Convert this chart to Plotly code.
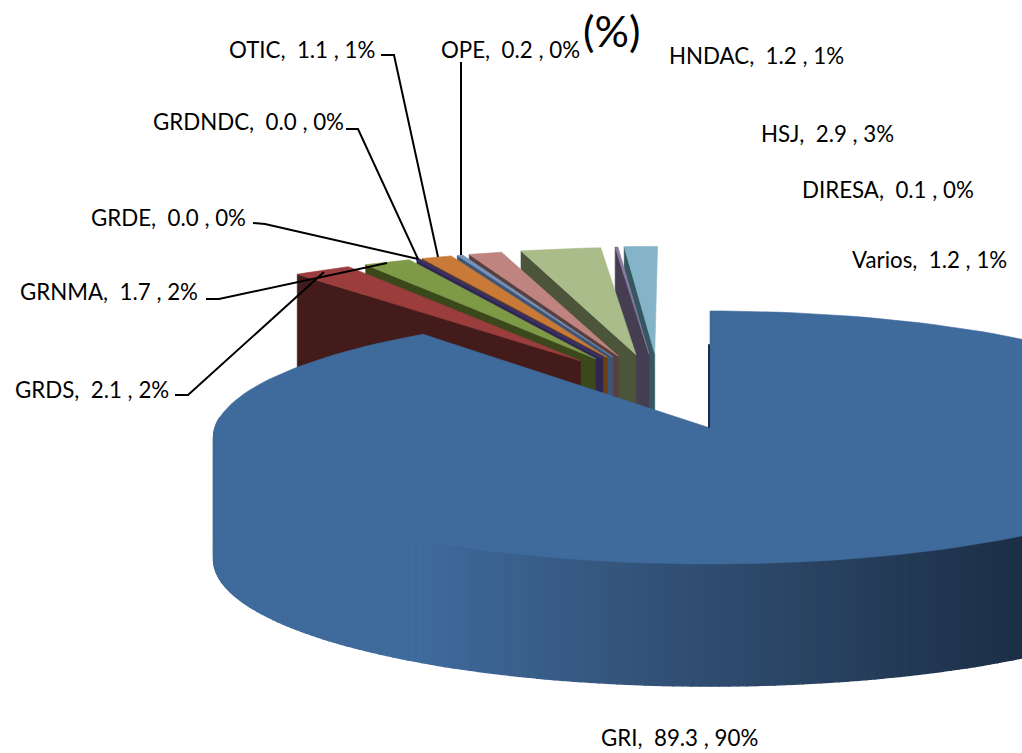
import math
import plotly.graph_objects as go

# ---- data ----
names = ["GRI", "GRDS", "GRNMA", "GRDE", "GRDNDC", "OTIC", "OPE", "HNDAC", "HSJ", "DIRESA", "Varios"]
values = [89.3, 2.1, 1.7, 0.0, 0.0, 1.1, 0.2, 1.2, 2.9, 0.1, 1.2]
percents = [90, 2, 2, 0, 0, 1, 0, 1, 3, 0, 1]
title_text = "(%)"

# ---- styles ----
top_colors = ["#3F6A9C", "#9A3D3C", "#7F9A47", "#3B3060", "#3B3060", "#C97A37", "#7793BD", "#BF8380", "#A9BC8A", "#8A7BA3", "#85B3C8"]
wall_colors = ["#3F6A9C", "#421B1A", "#3A481C", "#2E2650", "#2E2650", "#6B3F12", "#3F5576", "#594040", "#4C5539", "#453E52", "#355760"]
label_left = [599, 13, 18, 89, 151, 227, 439, 667, 759, 800, 850]
label_mid = [737, 389, 291, 217, 121, 49, 49, 55, 133, 189, 259]
leader_paths = {
    "GRDS": [(175, 395), (188, 395), (324, 272)],
    "GRNMA": [(206, 299), (219, 299), (387, 263)],
    "GRDE": [(253, 223), (265, 224), (418, 259)],
    "GRDNDC": [(346, 129), (358, 129), (418, 259)],
    "OTIC": [(381, 55), (394, 55), (438, 257)],
    "OPE": [(461, 62), (461, 255)],
}

# ---- pie geometry (perspective projection of a tilted circle) ----
CX, CY = 710.0, 428.0
RX, RY = 495.0, 125.8
PERSP = 0.075
WALL = 122.0
EXPLODE = 0.63
FAN_MID, FAN_K = 339.0, 0.54
APEX_PULL = 0.33
RIM_PULL = -0.1


def project(x, y):
    w = 1 + PERSP * y
    return CX + RX * x / w, CY - RY * y / w


def rim(theta, ox=0.0, oy=0.0, r=1.0, nudge=0.0):
    t = math.radians(theta)
    px, py = project(ox + r * math.sin(t), oy + r * math.cos(t))
    return px + nudge, py


def shade(px):
    stops = [(0, (63, 106, 156)), (420, (63, 106, 156)), (620, (52, 85, 124)),
             (800, (42, 68, 100)), (1022, (27, 46, 69))]
    px = max(0, min(1022, px))
    for (a, ca), (b, cb) in zip(stops, stops[1:]):
        if px <= b:
            f = (px - a) / (b - a)
            c = [round(ca[i] + f * (cb[i] - ca[i])) for i in range(3)]
            return "rgb(%d,%d,%d)" % tuple(c)
    return "rgb(27,46,69)"


fig = go.Figure()


def poly(points, color, edge=0.6):
    fig.add_trace(go.Scatter(
        x=[p[0] for p in points] + [points[0][0]],
        y=[p[1] for p in points] + [points[0][1]],
        mode="lines", fill="toself", fillcolor=color,
        line=dict(color=color, width=edge), hoverinfo="skip", showlegend=False))


total = sum(values)
sweeps = [v / total * 360 for v in values]
starts = [sum(sweeps[:i]) for i in range(len(sweeps))]

# small slices, exploded, back to front (right-most first)
for i in range(len(values) - 1, 0, -1):
    a0, a1 = starts[i], starts[i] + sweeps[i]
    mid = (a0 + a1) / 2
    phi = math.radians(FAN_MID + FAN_K * (mid - FAN_MID))
    ox, oy = EXPLODE * math.sin(phi), EXPLODE * math.cos(phi)
    ax, ay = project(ox, oy)
    apex = (ax + APEX_PULL * (360 - mid), ay)
    nudge = RIM_PULL * (360 - mid)
    r0 = rim(a0, ox, oy, nudge=nudge)
    poly([r0, apex, (apex[0], apex[1] + WALL), (r0[0], r0[1] + WALL)], wall_colors[i])
    n = max(2, int(sweeps[i]) + 2)
    arc = [rim(a0 + (a1 - a0) * k / n, ox, oy, nudge=nudge) for k in range(n + 1)]
    poly([apex] + arc, top_colors[i], edge=3.0 if values[i] == 0 else 0.6)

# main slice: outer wall as thin shaded strips, then the top face
a_end = sweeps[0]
theta = 90.0
while theta < 275:
    p0, p1 = rim(theta), rim(theta + 1.0)
    poly([p0, p1, (p1[0], p1[1] + WALL), (p0[0], p0[1] + WALL)], shade((p0[0] + p1[0]) / 2), edge=1.5)
    theta += 1.0
arc = [rim(a_end * k / 180) for k in range(181)]
poly([project(0, 0)] + arc, top_colors[0])

# thin dark cut face at the start of the main slice
cut_top = rim(0, r=0.7)
fig.add_trace(go.Scatter(x=[cut_top[0] - 1, CX - 1], y=[cut_top[1], CY], mode="lines",
                         line=dict(color="#1B2E45", width=2), hoverinfo="skip", showlegend=False))

# leader lines
for path in leader_paths.values():
    fig.add_trace(go.Scatter(x=[p[0] for p in path], y=[p[1] for p in path], mode="lines",
                             line=dict(color="#000000", width=2), hoverinfo="skip", showlegend=False))

# labels
for n, v, p, lx, ly in zip(names, values, percents, label_left, label_mid):
    fig.add_annotation(x=lx, y=ly, xref="x", yref="y", xanchor="left", yanchor="middle",
                       text=f"{n},\u00a0\u00a0{v:.1f}\u00a0,\u00a0{p}%", showarrow=False,
                       font=dict(family="Lato", size=22.3, color="#000000"))
fig.add_annotation(x=581, y=30, xref="x", yref="y", xanchor="left", yanchor="middle",
                   text=title_text, showarrow=False,
                   font=dict(family="Lato", size=43, color="#000000"))

fig.update_layout(
    width=1022, height=753, margin=dict(l=0, r=0, t=0, b=0),
    paper_bgcolor="white", plot_bgcolor="white", showlegend=False,
    xaxis=dict(range=[0, 1022], visible=False, fixedrange=True),
    yaxis=dict(range=[753, 0], visible=False, fixedrange=True),
)
fig.write_html("out.html", default_width="1022px", default_height="753px",
               config={"displayModeBar": False},
               post_script="document.body.style.margin='0';document.documentElement.style.overflow='hidden';")
